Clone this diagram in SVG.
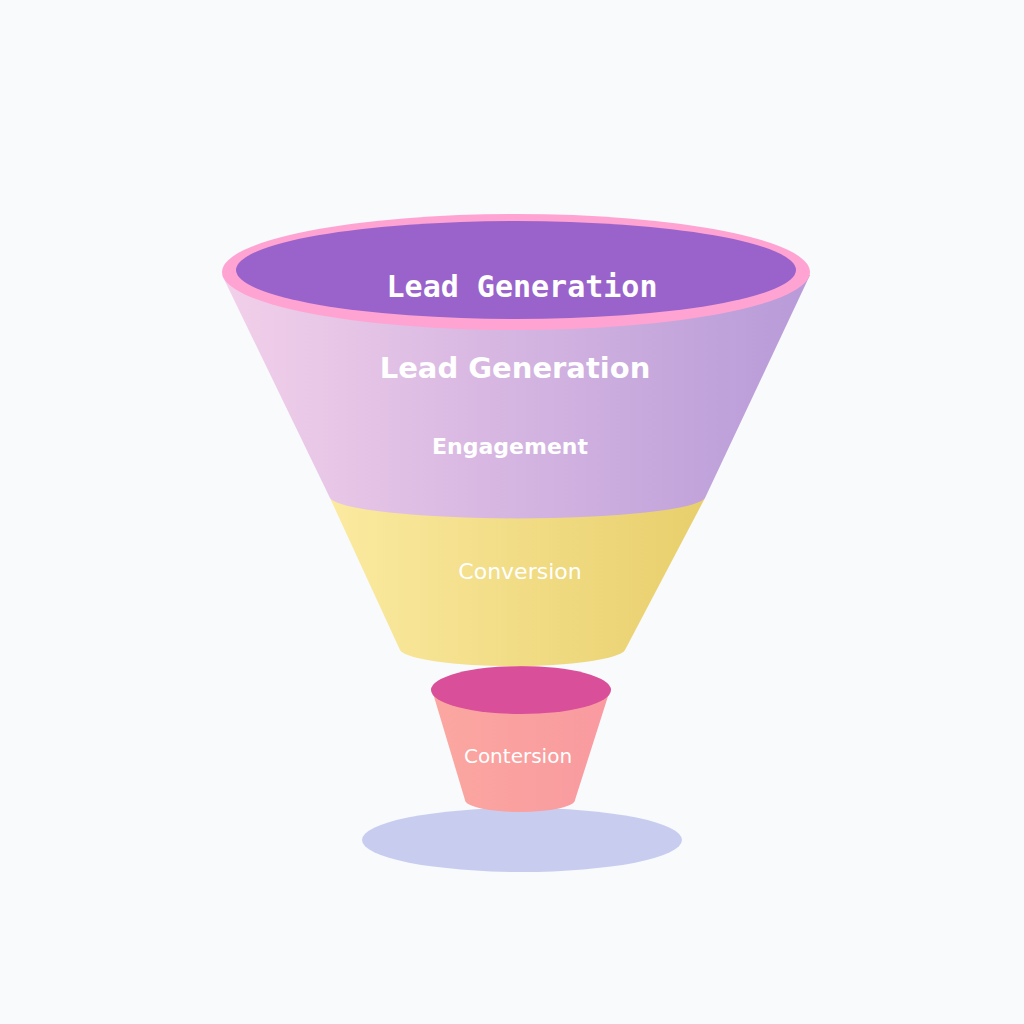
<svg xmlns="http://www.w3.org/2000/svg" width="1024" height="1024" viewBox="0 0 1024 1024">
<defs>
<linearGradient id="gp" x1="0" x2="1"><stop offset="0" stop-color="#f2d0ea"/><stop offset="1" stop-color="#b79ad8"/></linearGradient>
<linearGradient id="gy" x1="0" x2="1"><stop offset="0" stop-color="#fbeaa0"/><stop offset="1" stop-color="#e8cf6c"/></linearGradient>
<linearGradient id="gs" x1="0" x2="1"><stop offset="0" stop-color="#fba7a0"/><stop offset="1" stop-color="#f99aa0"/></linearGradient>
<style>text{font-family:"DejaVu Sans",sans-serif;fill:#fff;text-anchor:middle}.b{font-weight:600}.m{font-family:"DejaVu Sans Mono",monospace;font-weight:600}</style>
</defs>
<rect width="1024" height="1024" fill="#f8fafc"/>
<ellipse cx="522" cy="840" rx="160" ry="32" fill="#c8cdf0"/>
<g id="cup">
<path d="M432,690 L465,800 A55,12 0 0 0 575,800 L610,690 Z" fill="url(#gs)"/>
<ellipse cx="521" cy="690" rx="90" ry="24" fill="#d94f9a"/>
<text x="518" y="763" font-size="20">Contersion</text>
</g>
<g id="conversion">
<path d="M330,498 L400,650 A113,18 0 0 0 625,650 L705,498 Z" fill="url(#gy)"/>
<text x="520" y="579" font-size="22">Conversion</text>
</g>
<g id="top">
<path d="M222,275 L330,498 A188,22 0 0 0 705,498 L810,275 Z" fill="url(#gp)"/>
<ellipse cx="516" cy="272" rx="294" ry="58" fill="#ffa3d2"/>
<ellipse cx="516" cy="270" rx="280" ry="49" fill="#9a63cc"/>
<text class="m" x="522" y="297" font-size="30">Lead Generation</text>
<text class="b" x="515" y="378" font-size="29">Lead Generation</text>
<text class="b" x="510" y="454" font-size="22">Engagement</text>
</g>
</svg>
